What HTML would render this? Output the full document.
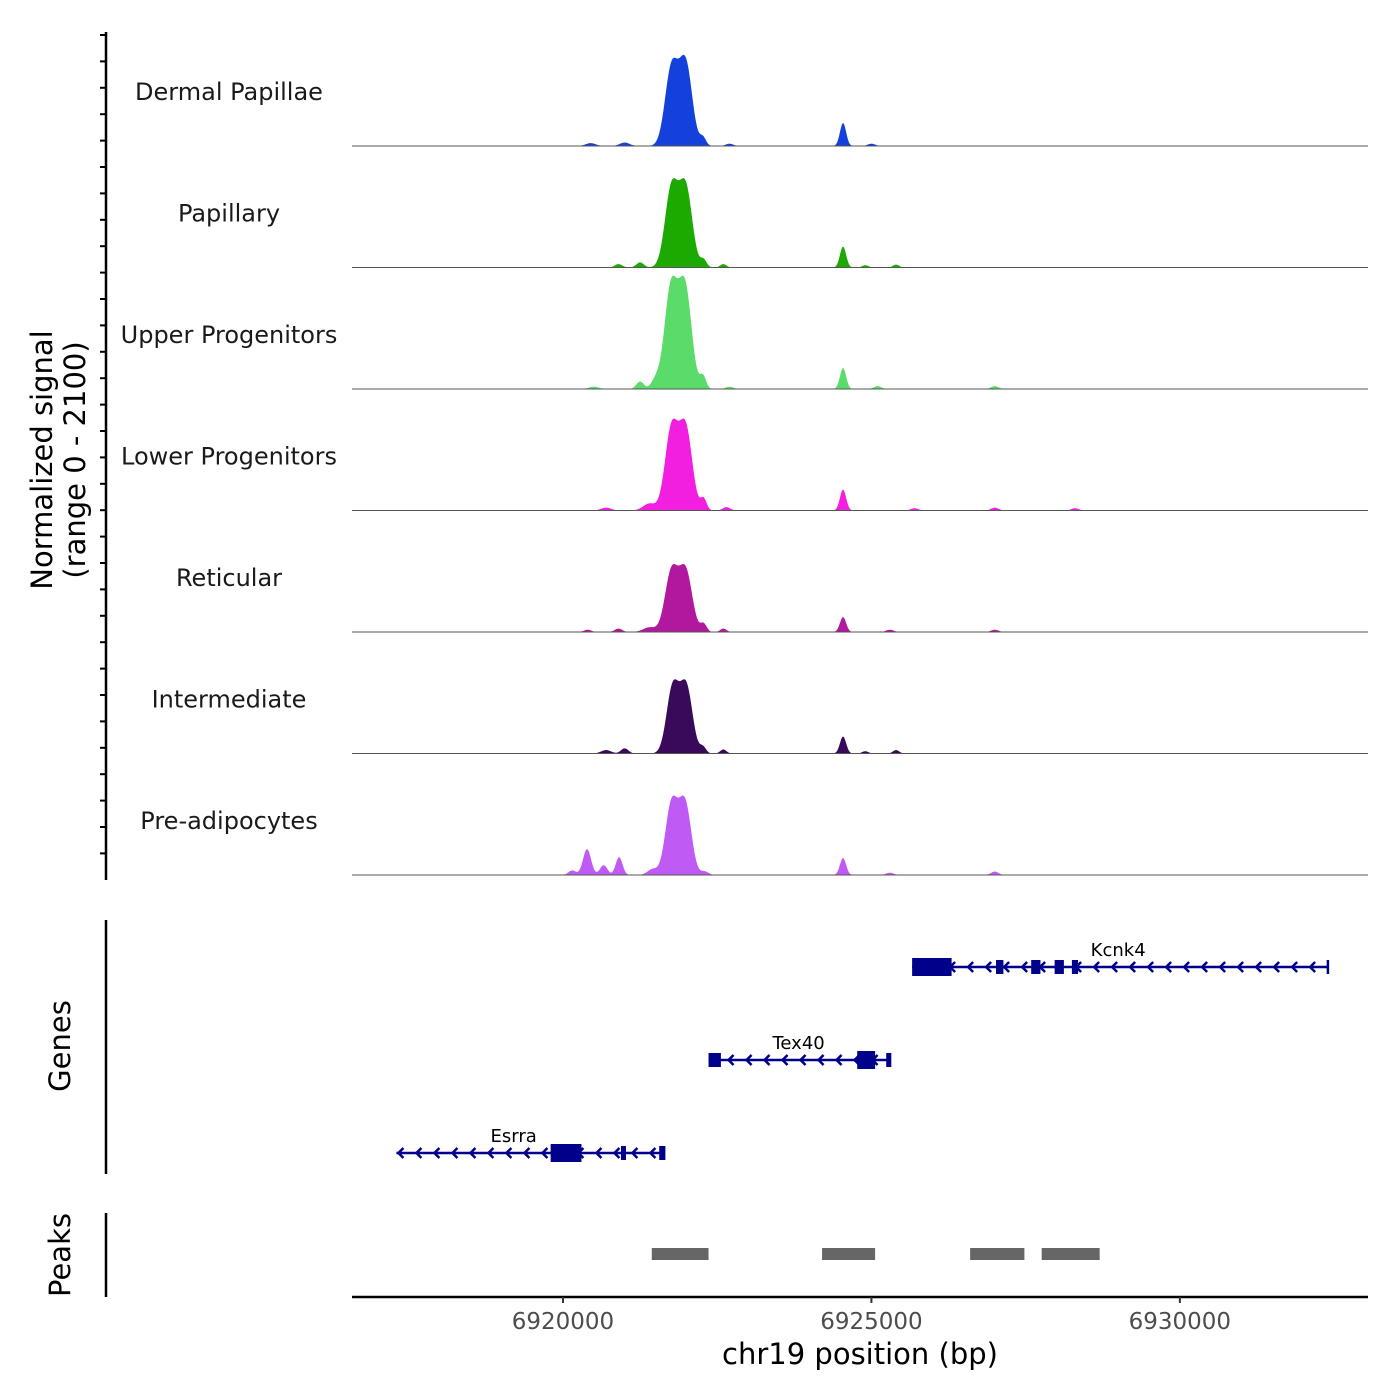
<!DOCTYPE html>
<html><head><meta charset="utf-8"><style>
body{margin:0;background:#fff;}
svg{display:block;font-family:"DejaVu Sans","Liberation Sans",sans-serif;}
</style></head><body>
<svg id="chart" width="1400" height="1400" viewBox="0 0 1400 1400"></svg>
<script>
// ---- data ----
const trackNames = ["Dermal Papillae","Papillary","Upper Progenitors","Lower Progenitors","Reticular","Intermediate","Pre-adipocytes"];
const trackColors = ["#1440DB","#1DAA00","#5ADB6A","#F21EE0","#B2189E","#3A0A5A","#C05AF5"];
// peaks per track: [center bp, height (signal), sigma bp]
const peaksDermal = [[6921760,1350,105],[6921990,1420,105],[6924540,400,50],[6922270,140,50],[6921000,60,80],[6920450,50,80],[6922700,40,60],[6925000,40,60]];
const peaksPapillary = [[6921760,1380,105],[6921990,1380,105],[6924540,365,50],[6922280,130,50],[6921250,90,60],[6920900,60,60],[6922600,60,50],[6925400,50,50],[6924900,40,50]];
const peaksUpper = [[6921750,1750,105],[6921980,1750,105],[6924540,365,50],[6922270,220,50],[6921250,130,60],[6921500,150,70],[6920500,40,80],[6927000,50,60],[6925100,50,60],[6922700,40,60]];
const peaksLower = [[6921760,1420,105],[6921990,1420,105],[6924540,365,50],[6922280,200,50],[6921400,120,100],[6922650,60,60],[6920700,50,80],[6927000,50,60],[6928300,40,60],[6925700,40,60]];
const peaksReticular = [[6921760,1050,105],[6921990,1050,105],[6924540,260,50],[6922280,140,50],[6921400,80,100],[6922600,60,50],[6920900,60,60],[6920400,40,60],[6925300,40,60],[6927000,40,60]];
const peaksIntermediate = [[6921780,1150,100],[6922000,1150,100],[6924540,295,50],[6922270,110,50],[6921000,90,60],[6920700,60,80],[6922600,70,50],[6925400,60,50],[6924900,40,50]];
const peaksPreadipo = [[6921760,1230,100],[6921980,1230,100],[6920390,450,65],[6920910,310,55],[6920660,170,60],[6924540,295,50],[6921450,100,80],[6920150,80,60],[6922300,60,60],[6927000,60,60],[6925300,40,60]];
const trackPeaks = [peaksDermal,peaksPapillary,peaksUpper,peaksLower,peaksReticular,peaksIntermediate,peaksPreadipo];
const xTicks = [6920000,6925000,6930000];
const geneNames = ["Kcnk4","Tex40","Esrra"];
const geneSpans = [[6925660,6932400],[6922360,6925300],[6917300,6921640]];
const geneExons = [
 [[6925660,6926300],[6927020,6927140],[6927590,6927740],[6927970,6928120],[6928250,6928350]],
 [[6922360,6922560],[6924770,6925060],[6925240,6925300]],
 [[6919800,6920300],[6920940,6920980],[6921560,6921640]]
];
const peakRegions = [[6921440,6922360],[6924200,6925060],[6926600,6927480],[6927760,6928700]];

// ---- scales ----
const X0=352,X1=1368,BP0=6916580,BP1=6933050;
const xs = bp => X0+(bp-BP0)/(BP1-BP0)*(X1-X0);
const baseY = i => 146+i*121.5;
const ys = (v,i) => baseY(i)-v/2100*121;
const NS="http://www.w3.org/2000/svg";
const svg=document.getElementById("chart");
function mk(tag,attrs,parent){const e=document.createElementNS(NS,tag);for(const k in attrs)e.setAttribute(k,attrs[k]);(parent||svg).appendChild(e);return e;}

trackNames.forEach((name,i)=>{
  const g=mk("g",{});
  
  
  let d="M"+X0+","+baseY(i);
  for(let px=X0;px<=X1;px+=1){
    const bp=BP0+(px-X0)/(X1-X0)*(BP1-BP0);
    let v=0;
    trackPeaks[i].forEach(p=>{v+=p[1]*Math.exp(-0.5*((bp-p[0])/p[2])**2);});
    d+=" L"+px+","+ys(v,i).toFixed(2);
  }
  d+=" L"+X1+","+baseY(i)+" Z";
  const area=mk("path",{d:d,fill:trackColors[i],stroke:"none"},g);
  
  
  const bl=mk("line",{x1:X0,x2:X1,y1:baseY(i),y2:baseY(i),stroke:"#555","stroke-width":1},g);
  
  
  const t=mk("text",{x:229,y:baseY(i)-46,"text-anchor":"middle","font-size":24,fill:"#1a1a1a"},g);
  t.textContent=name;
  
  
});

const ax=mk("g",{});


mk("line",{x1:106,x2:106,y1:32,y2:880,stroke:"#000","stroke-width":2.5},ax);
for(let y=35;y<=878;y+=26.4){mk("line",{x1:100,x2:106,y1:y,y2:y,stroke:"#000","stroke-width":2},ax);}
const yt=mk("text",{transform:"translate(52,460) rotate(-90)","text-anchor":"middle","font-size":29,fill:"#000"});
yt.innerHTML='<tspan x="0" dy="0">Normalized signal</tspan><tspan x="0" dy="33">(range 0 - 2100)</tspan>';



const ga=mk("g",{});


mk("line",{x1:106,x2:106,y1:920,y2:1174,stroke:"#000","stroke-width":2.5},ga);
const gt=mk("text",{transform:"translate(70,1046) rotate(-90)","text-anchor":"middle","font-size":29},ga);
gt.textContent="Genes";


const geneY=[967,1060,1153];
geneNames.forEach((n,i)=>{
  const g=mk("g",{},ga);
  
  
  const y=geneY[i],a=xs(geneSpans[i][0]),b=xs(geneSpans[i][1]);
  mk("line",{x1:a,x2:b,y1:y,y2:y,stroke:"#00008B","stroke-width":2.5},g);
  for(let x=a+2;x<=b;x+=18){mk("path",{d:`M${x+5},${y-5} L${x},${y} L${x+5},${y+5}`,fill:"none",stroke:"#00008B","stroke-width":2.5},g);}
  mk("line",{x1:b,x2:b,y1:y-7,y2:y+7,stroke:"#00008B","stroke-width":2.5},g);
  geneExons[i].forEach((e,k)=>{
    const h=(k===0&&i!==1)||(i===1&&k===1)?18:14;
    mk("rect",{x:xs(e[0]),y:y-h/2,width:Math.max(5,xs(e[1])-xs(e[0])),height:h,fill:"#00008B"},g);
  });
  const lt=mk("text",{x:(i===0?xs(6929000):i===1?xs(6923820):xs(6919200)),y:y-11,"text-anchor":"middle","font-size":18},g);
  lt.textContent=n;
  
  
});

const pa=mk("g",{});


mk("line",{x1:106,x2:106,y1:1213,y2:1297,stroke:"#000","stroke-width":2.5},pa);
const pt=mk("text",{transform:"translate(70,1255) rotate(-90)","text-anchor":"middle","font-size":29},pa);
pt.textContent="Peaks";


peakRegions.forEach(r=>{
  const rc=mk("rect",{x:xs(r[0]),y:1248,width:xs(r[1])-xs(r[0]),height:12,fill:"#666"},pa);
  
  
});

const xa=mk("g",{});


mk("line",{x1:X0,x2:X1,y1:1297,y2:1297,stroke:"#000","stroke-width":2.5},xa);
xTicks.forEach(t=>{
  mk("line",{x1:xs(t),x2:xs(t),y1:1297,y2:1303,stroke:"#333","stroke-width":2},xa);
  const tl=mk("text",{x:xs(t),y:1329,"text-anchor":"middle","font-size":23,fill:"#4d4d4d"},xa);
  tl.textContent=t;
  
  
});
const xt=mk("text",{x:860,y:1364,"text-anchor":"middle","font-size":29},xa);
xt.textContent="chr19 position (bp)";


</script>
</body></html>
